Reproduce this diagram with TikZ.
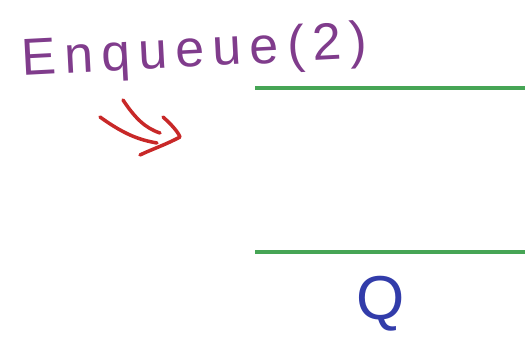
\documentclass[tikz,border=0pt]{standalone}
\usepackage{fontspec}
\setmainfont{Liberation Sans}
\newfontfamily\handfont[LetterSpace=16]{Liberation Sans}
\definecolor{penpurple}{RGB}{128,60,140}
\definecolor{penred}{RGB}{200,40,40}
\definecolor{pengreen}{RGB}{70,165,85}
\definecolor{penblue}{RGB}{50,60,170}
\tikzset{
  qline/.style={pengreen, line width=4.5pt},
  stroke/.style={penred, line width=3.5pt, line cap=round, line join=round},
  label/.style={inner sep=0pt, anchor=base west}
}
\begin{document}
\begin{tikzpicture}[x=1pt,y=-1pt]
\useasboundingbox[fill=white] (0,0) rectangle (525,338);
% title
\node[label, text=penpurple, rotate=3, font=\handfont\fontsize{52}{56}\selectfont] (title) at (22,76) {Enqueue(2)};
% red double arrow
\draw[stroke] (100,117) .. controls (125,135) and (140,140) .. (157,143);
\draw[stroke] (123,100) .. controls (135,118) and (145,128) .. (160,133);
\draw[stroke] (163,117) .. controls (172,125) and (178,132) .. (180,137) .. controls (165,145) and (150,150) .. (140,155);
% queue lines
\coordinate (t1) at (255,88);
\coordinate (t2) at (525,88);
\coordinate (b1) at (255,252);
\coordinate (b2) at (525,252);
\draw[qline] (t1) -- (t2);
\draw[qline] (b1) -- (b2);
% label Q
\node[inner sep=0pt, text=penblue, font=\fontsize{62}{66}\selectfont] (q) at (381,304) {Q};
\end{tikzpicture}
\end{document}
